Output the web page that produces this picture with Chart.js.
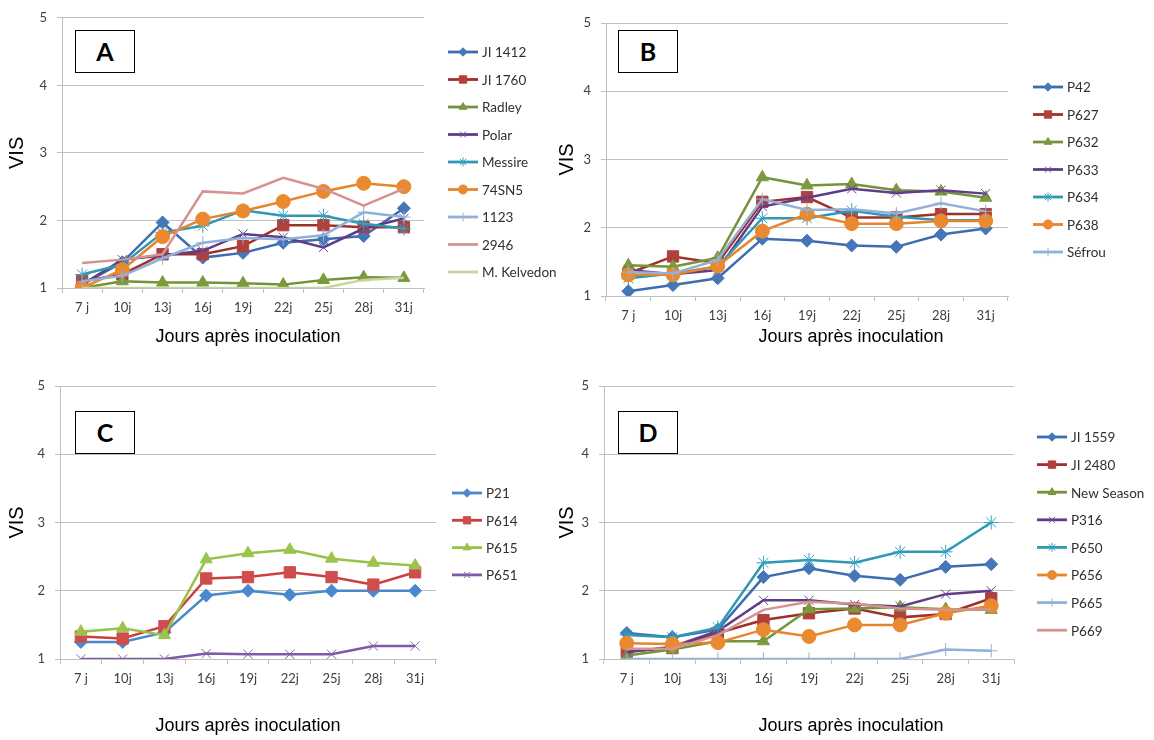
<!DOCTYPE html>
<html>
<head>
<meta charset="utf-8">
<script src="https://cdn.jsdelivr.net/npm/chart.js@4.4.0/dist/chart.umd.min.js"></script>
<style>
  body { margin: 0; background: #fff; }
  #wrap { position: relative; width: 1154px; height: 740px; overflow: hidden; }
  canvas { position: absolute; }
  .tag {
    position: absolute; width: 58px; height: 41px; border: 1.5px solid #000; background: #fff;
    font: bold 25px Lato, sans-serif; text-align: center; line-height: 41px; color: #000;
  }
</style>
</head>
<body>
<div id="wrap">
  <canvas id="cA" width="577" height="360" style="left:0;top:0"></canvas>
  <canvas id="cB" width="609" height="360" style="left:545px;top:0"></canvas>
  <canvas id="cC" width="545" height="380" style="left:0;top:360px"></canvas>
  <canvas id="cD" width="609" height="380" style="left:545px;top:360px"></canvas>
  <div class="tag" style="left:75px;top:30px">A</div>
  <div class="tag" style="left:618px;top:30px">B</div>
  <div class="tag" style="left:75px;top:411px">C</div>
  <div class="tag" style="left:618px;top:411px">D</div>
</div>
<script>
// x categories
const days = ["7 j", "10j", "13j", "16j", "19j", "22j", "25j", "28j", "31j"];
const xTitle = "Jours après inoculation";
const yTitle = "VIS";

// panel A
const namesA = ["JI 1412", "JI 1760", "Radley", "Polar", "Messire", "74SN5", "1123", "2946", "M. Kelvedon"];
const ji1412 = [1.05, 1.38, 1.97, 1.45, 1.52, 1.67, 1.72, 1.77, 2.18];
const ji1760 = [1.1, 1.2, 1.5, 1.5, 1.62, 1.93, 1.93, 1.9, 1.9];
const radley = [1.0, 1.1, 1.08, 1.08, 1.07, 1.05, 1.12, 1.16, 1.15];
const polar = [1.05, 1.42, 1.48, 1.55, 1.8, 1.75, 1.6, 1.88, 2.03];
const messire = [1.2, 1.35, 1.82, 1.92, 2.15, 2.07, 2.07, 1.95, 1.88];
const sn74 = [1.0, 1.27, 1.76, 2.02, 2.14, 2.28, 2.43, 2.55, 2.5];
const l1123 = [1.1, 1.18, 1.44, 1.67, 1.74, 1.72, 1.78, 2.12, 2.05];
const l2946 = [1.37, 1.42, 1.5, 2.43, 2.4, 2.63, 2.47, 2.22, 2.47];
const kelvedon = [1.0, 1.0, 1.0, 1.0, 1.0, 1.0, 1.0, 1.12, 1.15];

// panel B
const namesB = ["P42", "P627", "P632", "P633", "P634", "P638", "Séfrou"];
const p42 = [1.07, 1.16, 1.26, 1.84, 1.81, 1.74, 1.72, 1.9, 1.99];
const p627 = [1.33, 1.58, 1.48, 2.38, 2.45, 2.15, 2.15, 2.2, 2.2];
const p632 = [1.45, 1.43, 1.56, 2.74, 2.62, 2.64, 2.55, 2.53, 2.44];
const p633 = [1.38, 1.32, 1.38, 2.31, 2.44, 2.57, 2.51, 2.55, 2.5];
const p634 = [1.26, 1.33, 1.43, 2.14, 2.14, 2.25, 2.16, 2.11, 2.11];
const p638 = [1.31, 1.31, 1.44, 1.95, 2.2, 2.06, 2.06, 2.1, 2.1];
const sefrou = [1.35, 1.33, 1.53, 2.42, 2.26, 2.27, 2.21, 2.36, 2.24];

// panel C
const namesC = ["P21", "P614", "P615", "P651"];
const p21 = [1.25, 1.25, 1.39, 1.93, 2.0, 1.94, 2.0, 2.0, 2.0];
const p614 = [1.33, 1.3, 1.48, 2.18, 2.2, 2.27, 2.2, 2.09, 2.27];
const p615 = [1.4, 1.45, 1.35, 2.46, 2.55, 2.6, 2.47, 2.41, 2.37];
const p651 = [1.0, 1.0, 1.0, 1.08, 1.07, 1.07, 1.07, 1.19, 1.19];

// panel D
const namesD = ["JI 1559", "JI 2480", "New Season", "P316", "P650", "P656", "P665", "P669"];
const ji1559 = [1.38, 1.32, 1.43, 2.2, 2.33, 2.22, 2.16, 2.35, 2.39];
const ji2480 = [1.11, 1.16, 1.38, 1.57, 1.67, 1.74, 1.61, 1.66, 1.89];
const newSeason = [1.05, 1.14, 1.26, 1.26, 1.73, 1.74, 1.76, 1.73, 1.72];
const p316 = [1.1, 1.18, 1.41, 1.86, 1.86, 1.8, 1.77, 1.95, 2.0];
const p650 = [1.35, 1.32, 1.46, 2.41, 2.45, 2.41, 2.57, 2.57, 3.0];
const p656 = [1.23, 1.22, 1.24, 1.43, 1.33, 1.5, 1.5, 1.67, 1.78];
const p665 = [1.0, 1.0, 1.0, 1.0, 1.0, 1.0, 1.0, 1.14, 1.12];
const p669 = [1.15, 1.15, 1.35, 1.72, 1.84, 1.81, 1.74, 1.72, 1.73];

// excel-ish series looks
const S = {
  blue:   { line: "#3d6db0", pt: "#4576b8", style: "rectRot", r: 6.5 },
  red:    { line: "#a0302c", pt: "#b0403c", style: "rect", r: 8 },
  green:  { line: "#76923b", pt: "#7a9a3c", style: "triangle", r: 7 },
  purple: { line: "#5f3d88", pt: "#6a4896", style: "crossRot", r: 6.5 },
  teal:   { line: "#2f98b4", pt: "#33a2bf", style: "star", r: 7 },
  orange: { line: "#e8842c", pt: "#ea8a30", style: "circle", r: 7 },
  ltblue: { line: "#93b0d9", pt: "#93b0d9", style: "cross", r: 6.5 },
  pink:   { line: "#d59390", pt: "#d59390", style: "circle", r: 0 },
  ltgreen:{ line: "#c4d79b", pt: "#c4d79b", style: "circle", r: 0 },
  cBlue:  { line: "#4a88cc", pt: "#4a88d0", style: "rectRot", r: 6.5 },
  cRed:   { line: "#cc3f3f", pt: "#d04d4d", style: "rect", r: 8 },
  cGreen: { line: "#98c246", pt: "#9cc44c", style: "triangle", r: 7 },
  cPurple:{ line: "#7d5aa8", pt: "#8461ae", style: "crossRot", r: 6.5 }
};

function series(names, values, looks) {
  return values.map((v, i) => {
    const s = S[looks[i]];
    return {
      label: names[i], data: v,
      borderColor: s.line, borderWidth: 2.5,
      pointStyle: s.style, pointRadius: s.r, pointHoverRadius: s.r,
      pointBackgroundColor: s.pt, pointBorderColor: s.pt, pointBorderWidth: 1,
      tension: 0, order: -i
    };
  });
}

// legend at the right, line + marker like excel
const sideLegend = {
  id: "sideLegend",
  afterDraw(chart, args, o) {
    const ctx = chart.ctx;
    ctx.save();
    chart.data.datasets.forEach((ds, i) => {
      const y = o.top + i * o.step, x = o.left;
      ctx.strokeStyle = ds.borderColor;
      ctx.lineWidth = 2.8;
      ctx.beginPath(); ctx.moveTo(x, y); ctx.lineTo(x + 30, y); ctx.stroke();
      if (ds.pointRadius > 0) {
        ctx.fillStyle = ds.pointBackgroundColor;
        ctx.strokeStyle = ds.pointBorderColor;
        ctx.lineWidth = 1;
        Chart.helpers.drawPoint(ctx, { pointStyle: ds.pointStyle, radius: ds.pointRadius * 0.65, borderWidth: 1, rotation: 0 }, x + 15, y);
      }
      ctx.fillStyle = "#303030";
      ctx.font = "13.5px Lato";
      ctx.textBaseline = "middle";
      ctx.textAlign = "left";
      ctx.fillText(ds.label, x + 34, y + 1);
    });
    // x axis title (excel centres it off the plot area)
    ctx.fillStyle = "#000";
    ctx.font = "18px 'Liberation Sans'";
    ctx.textAlign = "center";
    ctx.fillText(xTitle, o.tx, o.ty);
    ctx.restore();
  }
};

function makePanel(id, datasets, g, leg) {
  new Chart(document.getElementById(id), {
    type: "line",
    data: { labels: days, datasets: datasets },
    plugins: [sideLegend],
    options: {
      responsive: false, animation: false,
      layout: { padding: g.pad },
      plugins: { legend: { display: false }, tooltip: { enabled: false }, sideLegend: leg },
      scales: {
        x: {
          offset: true,
          grid: { offset: true, drawOnChartArea: false, tickLength: 5, color: "#bfbfbf" },
          border: { color: "#bfbfbf" },
          ticks: { color: "#404040", font: { family: "Lato", size: 13 }, padding: 7, maxRotation: 0 },
          afterFit: s => { s.height = g.xh; }
        },
        y: {
          min: 1, max: 5,
          ticks: { stepSize: 1, color: "#404040", font: { family: "Lato", size: 13 }, padding: 10 },
          grid: { color: "#bfbfbf", tickLength: 5 },
          border: { color: "#bfbfbf" },
          title: { display: true, text: yTitle, color: "#000",
                   font: { family: "Liberation Sans", size: 20 }, padding: { top: g.yt, bottom: 0 } },
          afterFit: s => { s.width = g.yw; }
        }
      }
    }
  });
}

makePanel("cA",
  series(namesA, [ji1412, ji1760, radley, polar, messire, sn74, l1123, l2946, kelvedon],
         ["blue", "red", "green", "purple", "teal", "orange", "ltblue", "pink", "ltgreen"]),
  { pad: { left: 0, top: 14, right: 153, bottom: 12 }, yw: 62, xh: 60, yt: 5 },
  { left: 448, top: 52, step: 27.5, tx: 248, ty: 337 });

makePanel("cB",
  series(namesB, [p42, p627, p632, p633, p634, p638, sefrou],
         ["blue", "red", "green", "purple", "teal", "orange", "ltblue"]),
  { pad: { left: 0, top: 23, right: 146, bottom: 12 }, yw: 61, xh: 52, yt: 10 },
  { left: 488, top: 87, step: 27.5, tx: 306, ty: 337 });

makePanel("cC",
  series(namesC, [p21, p614, p615, p651], ["cBlue", "cRed", "cGreen", "cPurple"]),
  { pad: { left: 0, top: 26, right: 109, bottom: 3 }, yw: 60, xh: 78, yt: 5 },
  { left: 452, top: 133, step: 27.3, tx: 248, ty: 366 });

makePanel("cD",
  series(namesD, [ji1559, ji2480, newSeason, p316, p650, p656, p665, p669],
         ["blue", "red", "green", "purple", "teal", "orange", "ltblue", "pink"]),
  { pad: { left: 0, top: 26, right: 140, bottom: 3 }, yw: 59, xh: 78, yt: 10 },
  { left: 492, top: 77, step: 27.6, tx: 306, ty: 366 });
</script>
</body>
</html>
